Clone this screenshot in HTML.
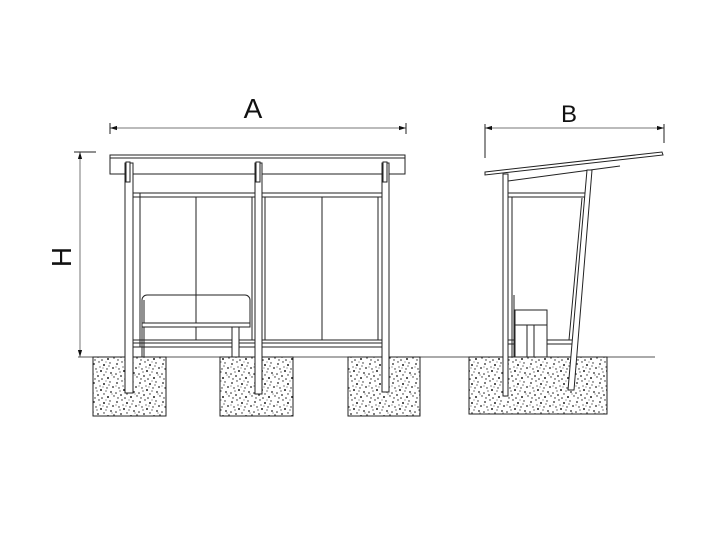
<!DOCTYPE html><html><head><style>body{margin:0;background:#fff}svg{display:block}</style></head><body>
<svg width="724" height="536" viewBox="0 0 724 536" xmlns="http://www.w3.org/2000/svg" font-family="Liberation Sans, sans-serif">
<defs>
<pattern id="c" width="23" height="19" patternUnits="userSpaceOnUse">
<rect width="23" height="19" fill="#fff"/>
<g fill="#222">
<circle cx="2" cy="3" r=".9"/><circle cx="7" cy="1" r=".7"/><circle cx="12" cy="4" r="1"/><circle cx="18" cy="2" r=".7"/><circle cx="21" cy="7" r=".9"/><circle cx="4" cy="8" r=".7"/><circle cx="9" cy="10" r="1"/><circle cx="15" cy="8" r=".7"/><circle cx="19" cy="12" r=".9"/><circle cx="1" cy="13" r=".8"/><circle cx="6" cy="15" r=".9"/><circle cx="12" cy="14" r=".7"/><circle cx="16" cy="17" r="1"/><circle cx="22" cy="16" r=".7"/><circle cx="3" cy="18" r=".7"/><circle cx="10" cy="18" r=".8"/><circle cx="14" cy="11" r=".6"/><circle cx="8" cy="6" r=".6"/><circle cx="17" cy="5" r=".6"/><circle cx="5" cy="11" r=".6"/><circle cx="20" cy="14" r=".5"/><circle cx="11" cy="7" r=".5"/><circle cx="1" cy="6" r=".5"/><circle cx="14" cy="1" r=".5"/>
</g></pattern>
<marker id="a" viewBox="0 0 10 10" refX="10" refY="5" markerWidth="7" markerHeight="7" orient="auto-start-reverse"><path d="M0,2L10,5L0,8z" fill="#111"/></marker>
</defs>
<g stroke="#222" stroke-width="1" fill="none">
<line x1="78" y1="357" x2="655" y2="357" stroke="#555"/>
<rect x="93" y="357" width="73" height="59" fill="url(#c)"/>
<rect x="220" y="357" width="73" height="59" fill="url(#c)"/>
<rect x="348" y="357" width="72" height="59" fill="url(#c)"/>
<rect x="469" y="357" width="138" height="57" fill="url(#c)"/>
<line x1="110" y1="128" x2="406" y2="128" stroke="#777" marker-start="url(#a)" marker-end="url(#a)"/>
<line x1="110" y1="123" x2="110" y2="134"/><line x1="406" y1="123" x2="406" y2="134"/>
<line x1="80" y1="152" x2="80" y2="357" stroke="#777" marker-start="url(#a)" marker-end="url(#a)"/>
<line x1="74" y1="152" x2="96" y2="152"/>
<line x1="485" y1="128" x2="664" y2="128" stroke="#777" marker-start="url(#a)" marker-end="url(#a)"/>
<line x1="485" y1="124" x2="485" y2="158"/><line x1="664" y1="124" x2="664" y2="143"/>
<rect x="110" y="155" width="295" height="19" fill="#fff"/>
<line x1="110" y1="158" x2="405" y2="158"/>
<rect x="140" y="193" width="242" height="154" fill="#fff"/>
<line x1="133" y1="193" x2="382" y2="193"/><line x1="133" y1="197" x2="382" y2="197"/>
<line x1="133" y1="340" x2="382" y2="340"/><line x1="133" y1="343" x2="382" y2="343"/><line x1="133" y1="347" x2="382" y2="347"/>
<line x1="196" y1="197" x2="196" y2="340"/><line x1="252" y1="197" x2="252" y2="340"/><line x1="265" y1="197" x2="265" y2="340"/><line x1="322" y1="197" x2="322" y2="340"/><line x1="378" y1="197" x2="378" y2="340"/>
<path d="M142,357V300a5,5 0 0 1 5,-5H245a5,5 0 0 1 5,5V327"/>
<line x1="144" y1="300" x2="144" y2="357"/>
<rect x="142" y="323" width="108" height="4" fill="#fff"/>
<rect x="232" y="327" width="7" height="30" fill="#fff"/>
<rect x="125" y="163" width="8" height="230" fill="#fff"/>
<rect x="255" y="163" width="7" height="231" fill="#fff"/>
<rect x="382" y="163" width="7" height="229" fill="#fff"/>
<rect x="126" y="162" width="4" height="20" fill="#fff"/><rect x="256" y="162" width="4" height="20" fill="#fff"/><rect x="383" y="162" width="4" height="20" fill="#fff"/>
<polygon points="485,172 662,152 663,155 485,175" fill="#fff"/>
<line x1="508" y1="181" x2="620" y2="166"/>
<line x1="508" y1="193" x2="586" y2="193"/><line x1="508" y1="197" x2="586" y2="197"/>
<line x1="512" y1="197" x2="512" y2="357"/>
<line x1="508" y1="340" x2="572" y2="340"/><line x1="508" y1="344" x2="572" y2="344"/>
<line x1="514" y1="295" x2="514" y2="357"/>
<rect x="515" y="310" width="32" height="47" fill="#fff"/>
<line x1="515" y1="325" x2="547" y2="325"/><line x1="527" y1="325" x2="527" y2="357"/><line x1="534" y1="325" x2="534" y2="357"/>
<polygon points="587,170 592,170 574,390 568,390" fill="#fff"/>
<line x1="582" y1="198" x2="569" y2="340"/>
<rect x="503" y="174" width="5" height="222" fill="#fff"/>
</g>
<text x="253" y="118" font-size="28" text-anchor="middle" fill="#111">A</text>
<text x="569" y="122" font-size="24" text-anchor="middle" fill="#111">B</text>
<text x="0" y="0" font-size="28" text-anchor="middle" fill="#111" transform="translate(71,257) rotate(-90)">H</text>
</svg>
</body></html>
